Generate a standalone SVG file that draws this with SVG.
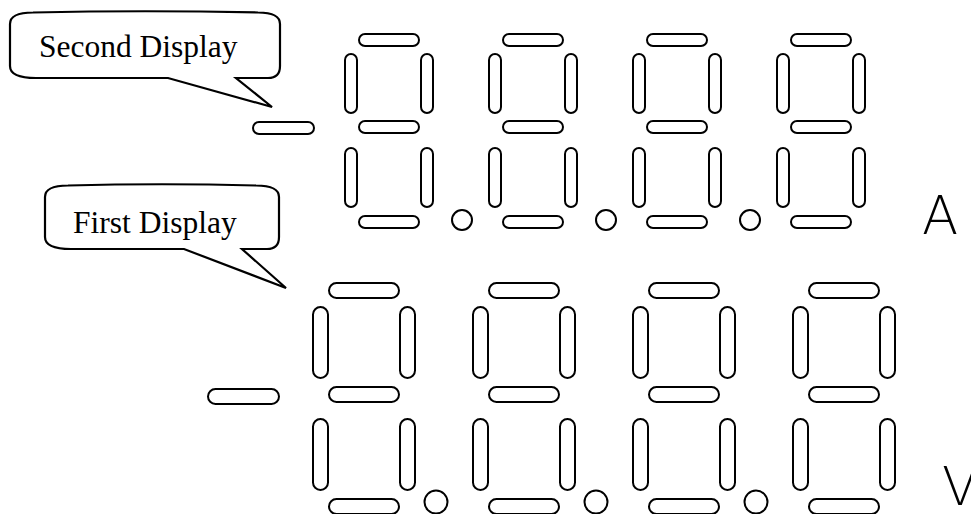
<svg xmlns="http://www.w3.org/2000/svg" xmlns:xlink="http://www.w3.org/1999/xlink" width="971" height="514" viewBox="0 0 971 514">
<style>
.seg{fill:#fff;stroke:#000;stroke-width:2}
.call{fill:#fff;stroke:#000;stroke-width:2.2;stroke-linejoin:miter}
.ctext{font-family:"Liberation Serif","Times New Roman",serif;font-size:31.5px;fill:#000}
.unit{font-family:"DejaVu Sans","Liberation Sans",sans-serif;font-weight:200;font-size:53px;fill:#000}
</style>
<defs>
<g id="digitTop">
<rect class="seg" x="359" y="34" width="60" height="12" rx="6"/>
<rect class="seg" x="421" y="54" width="12" height="59" rx="6"/>
<rect class="seg" x="421" y="148" width="12" height="59" rx="6"/>
<rect class="seg" x="359" y="216" width="60" height="12" rx="6"/>
<rect class="seg" x="345" y="148" width="12" height="59" rx="6"/>
<rect class="seg" x="345" y="54" width="12" height="59" rx="6"/>
<rect class="seg" x="359" y="121" width="60" height="12" rx="6"/>
</g>
<circle id="dotTop" class="seg" cx="462" cy="220" r="10"/>
<g id="digitBot">
<rect class="seg" x="329" y="283" width="70" height="15" rx="7.5"/>
<rect class="seg" x="400" y="307" width="15" height="71" rx="7.5"/>
<rect class="seg" x="400" y="419" width="15" height="71" rx="7.5"/>
<rect class="seg" x="329" y="499" width="70" height="15" rx="7.5"/>
<rect class="seg" x="313" y="419" width="15" height="71" rx="7.5"/>
<rect class="seg" x="313" y="307" width="15" height="71" rx="7.5"/>
<rect class="seg" x="329" y="387" width="70" height="15" rx="7.5"/>
</g>
<circle id="dotBot" class="seg" cx="436" cy="502" r="11.5"/>
</defs>

<g id="callout-second">
<path class="call" d="M33,12.5 Q145,10 258,12.5 Q280,12.5 280,24 L280,66 Q280,78 268,78 L236,78 L272,107 L168,78 L36,78 Q10,78 10,66 L10,24 Q10,12.5 33,12.5 Z"/>
<text class="ctext" x="39" y="57">Second Display</text>
</g>

<g id="callout-first">
<path class="call" d="M68,185.5 Q162,183 256,185.5 Q279,185.5 279,197 L279,237 Q279,249 267,249 L242,249 L286,288 L184,249 L71,249 Q45,249 45,237 L45,197 Q45,185.5 68,185.5 Z"/>
<text class="ctext" x="73" y="233">First Display</text>
</g>

<g id="display-second">
<rect class="seg" x="253" y="122" width="61" height="12" rx="6"/>
<use xlink:href="#digitTop"/>
<use xlink:href="#dotTop"/>
<use xlink:href="#digitTop" x="144"/>
<use xlink:href="#dotTop" x="144"/>
<use xlink:href="#digitTop" x="288"/>
<use xlink:href="#dotTop" x="288"/>
<use xlink:href="#digitTop" x="432"/>
</g>

<g id="display-first">
<rect class="seg" x="208" y="389" width="71" height="15" rx="7.5"/>
<use xlink:href="#digitBot"/>
<use xlink:href="#dotBot"/>
<use xlink:href="#digitBot" x="160"/>
<use xlink:href="#dotBot" x="160"/>
<use xlink:href="#digitBot" x="320"/>
<use xlink:href="#dotBot" x="320"/>
<use xlink:href="#digitBot" x="480"/>
</g>

<g id="label-A"><text class="unit" x="922" y="234">A</text></g>
<g id="label-V"><text class="unit" x="942" y="505">V</text></g>
</svg>
